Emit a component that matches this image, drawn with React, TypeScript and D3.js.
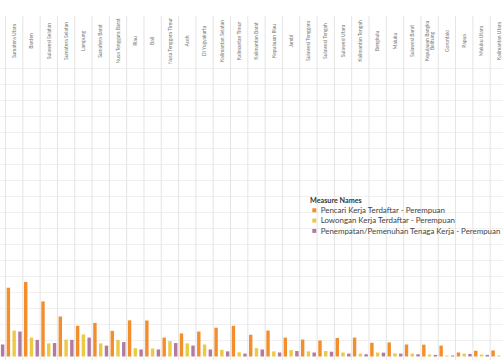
import { useEffect, useRef } from "react";
import * as d3 from "d3";

// Provinsi (kolom pertama terpotong di kiri)
const provinces = [
  "Jawa Tengah",
  "Sumatera Utara",
  "Banten",
  "Sulawesi Selatan",
  "Sumatera Selatan",
  "Lampung",
  "Sumatera Barat",
  "Nusa Tenggara Barat",
  "Riau",
  "Bali",
  "Nusa Tenggara Timur",
  "Aceh",
  "DI Yogyakarta",
  "Kalimantan Selatan",
  "Kalimantan Timur",
  "Kalimantan Barat",
  "Kepulauan Riau",
  "Jambi",
  "Sulawesi Tenggara",
  "Sulawesi Tengah",
  "Sulawesi Utara",
  "Kalimantan Tengah",
  "Bengkulu",
  "Maluku",
  "Sulawesi Barat",
  "Kepulauan Bangka Belitung",
  "Gorontalo",
  "Papua",
  "Maluku Utara",
  "Kalimantan Utara",
];

const measureNames = [
  "Pencari Kerja Terdaftar - Perempuan",
  "Lowongan Kerja Terdaftar - Perempuan",
  "Penempatan/Pemenuhan Tenaga Kerja - Perempuan",
];

const pencariKerja = [
  30000, 21500, 23300, 17200, 12500, 9600, 10500, 8000, 11300, 11250, 5900,
  7200, 7800, 9000, 9600, 6800, 8100, 5900, 5300, 5000, 5800, 5900, 4300, 4400,
  3750, 3700, 3400, 1250, 1800, 1900,
];

const lowonganKerja = [
  5000, 8100, 5900, 4100, 5300, 6900, 4100, 5200, 2600, 2500, 4800, 4100, 3750,
  2100, 1300, 2600, 1600, 2000, 1600, 1700, 1250, 900, 1250, 1000, 900, 600,
  300, 900, 600, 300,
];

const penempatan = [
  3750, 7800, 5200, 4200, 5200, 5900, 3400, 4500, 2200, 2200, 4200, 3400, 2200,
  1600, 900, 2200, 1250, 1700, 1250, 1500, 900, 700, 1200, 900, 700, 500, 300,
  800, 500, 200,
];

const colors = ["#F28E2B", "#EDC948", "#B07AA1"];

const WIDTH = 503;
const HEIGHT = 360;

export default function App() {
  const svgRef = useRef<SVGSVGElement>(null);

  useEffect(() => {
    if (!svgRef.current) return;
    const svg = d3.select(svgRef.current);
    svg.selectAll("*").remove();

    const font = "Lato, 'Noto Sans', sans-serif";
    const colWidth = 17.31;
    const headerTop = 16;
    const headerBottom = 66;
    const plotBottom = 356.5;

    const series = [pencariKerja, lowonganKerja, penempatan];

    // Echelles
    const x = d3
      .scaleBand<string>()
      .domain(provinces)
      .range([5.5 - colWidth, 5.5 - colWidth + colWidth * provinces.length])
      .padding(0);

    const xInner = d3
      .scaleBand<number>()
      .domain([0, 1, 2])
      .range([0, x.bandwidth()])
      .paddingInner(0.41)
      .paddingOuter(0.205);

    const y = d3.scaleLinear().domain([0, 90000]).range([plotBottom, 68.5]);

    svg.attr("width", WIDTH).attr("height", HEIGHT);

    // Grille horizontale
    svg
      .append("g")
      .selectAll("line")
      .data(y.ticks(18).filter((d) => d > 0))
      .enter()
      .append("line")
      .attr("x1", 0)
      .attr("x2", WIDTH)
      .attr("y1", (d) => y(d))
      .attr("y2", (d) => y(d))
      .style("stroke", "#f0f0f0")
      .style("stroke-width", 1);

    // Séparateurs de colonnes
    svg
      .append("g")
      .selectAll("line")
      .data(provinces)
      .enter()
      .append("line")
      .attr("x1", (d) => x(d) || 0)
      .attr("x2", (d) => x(d) || 0)
      .attr("y1", headerTop)
      .attr("y2", HEIGHT)
      .style("stroke", "#e4e4e4")
      .style("stroke-width", 1);

    // En-têtes (texte vertical) - seulement les colonnes visibles
    const visible = provinces.filter((d) => (x(d) || 0) >= 0);
    const headers = svg
      .append("g")
      .selectAll("text")
      .data(visible)
      .enter()
      .append("text")
      .attr(
        "transform",
        (d) =>
          `translate(${(x(d) || 0) + x.bandwidth() / 2},${
            (headerTop + headerBottom) / 2
          }) rotate(-90)`
      )
      .attr("text-anchor", "middle")
      .style("font-family", font)
      .style("font-size", "5px")
      .style("fill", "#777");

    headers.each(function (d) {
      let lines = [d];
      if (d.length > 22) {
        const i = d.lastIndexOf(" ");
        lines = [d.slice(0, i), d.slice(i + 1)];
      }
      const t = d3.select(this);
      lines.forEach((line, i) => {
        t.append("tspan")
          .attr("x", 0)
          .attr("y", (i - (lines.length - 1) / 2) * 5.5)
          .attr("dy", "0.35em")
          .text(line);
      });
    });

    // Barres
    const cols = svg
      .append("g")
      .selectAll("g")
      .data(provinces)
      .enter()
      .append("g")
      .attr("transform", (d) => `translate(${x(d) || 0},0)`);

    cols
      .selectAll("rect")
      .data((_, i) => series.map((s, k) => ({ k, v: s[i] })))
      .enter()
      .append("rect")
      .attr("x", (d) => xInner(d.k) || 0)
      .attr("width", xInner.bandwidth())
      .attr("y", (d) => y(d.v))
      .attr("height", (d) => plotBottom - y(d.v))
      .attr("fill", (d) => colors[d.k]);

    // Légende
    const legend = svg.append("g").attr("transform", "translate(310,0)");
    legend
      .append("text")
      .attr("x", 0)
      .attr("y", 202.5)
      .style("font-family", font)
      .style("font-size", "7.2px")
      .style("font-weight", "bold")
      .style("fill", "#333")
      .text("Measure Names");

    measureNames.forEach((name, i) => {
      const cy = 210.3 + i * 10.3;
      legend
        .append("rect")
        .attr("x", 2.3)
        .attr("y", cy - 2)
        .attr("width", 4)
        .attr("height", 4)
        .attr("fill", colors[i]);
      legend
        .append("text")
        .attr("x", 10.7)
        .attr("y", cy)
        .attr("dy", "0.35em")
        .style("font-family", font)
        .style("font-size", "7.9px")
        .style("fill", "#444")
        .text(name);
    });
  }, []);

  return (
    <div style={{ position: "absolute", left: 0, top: 0 }}>
      <svg ref={svgRef} style={{ display: "block", background: "#fff" }} />
    </div>
  );
}
